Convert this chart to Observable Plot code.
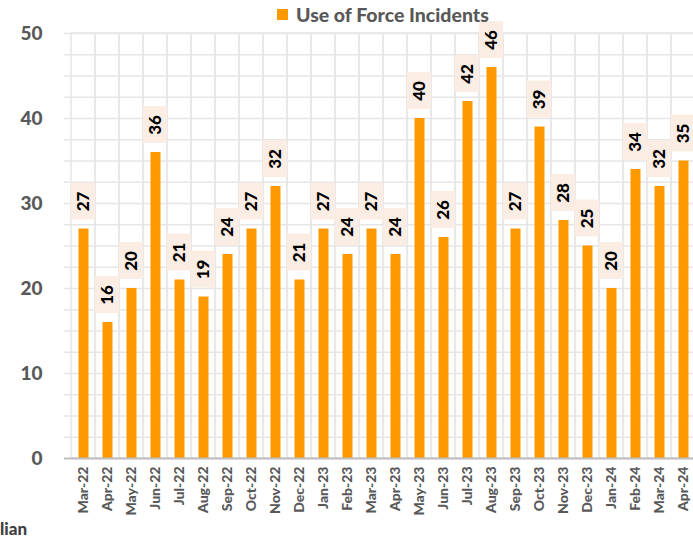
<!DOCTYPE html>
<html>
<head>
<meta charset="utf-8">
<script src="https://cdn.jsdelivr.net/npm/d3@7"></script>
<script src="https://cdn.jsdelivr.net/npm/@observablehq/plot@0.6"></script>
<style>
  html, body { margin: 0; padding: 0; background: #fff; width: 693px; height: 544px; overflow: hidden; }
  #wrap { position: relative; width: 693px; height: 544px; overflow: hidden; font-family: Lato, "Open Sans", sans-serif; }
  #chart { position: absolute; left: 0; top: 0; width: 710px; }
  #chart svg { max-width: none !important; }
  #legend { position: absolute; left: 277px; top: 3px; display: flex; align-items: center; font-weight: 900; font-size: 19.5px; color: #595959; }
  #legend .sw { width: 11px; height: 11px; background: #ff9900; margin-right: 8px; }
  #note { position: absolute; left: 0px; top: 518px; font-weight: 900; font-size: 17px; color: #404040; }
</style>
</head>
<body>
<div id="wrap">
  <div id="chart"></div>
  <div id="legend"><div class="sw"></div><span>Use of Force Incidents</span></div>
  <div id="note">lian</div>
</div>
<script>
const months = ["Mar-22","Apr-22","May-22","Jun-22","Jul-22","Aug-22","Sep-22","Oct-22","Nov-22","Dec-22",
  "Jan-23","Feb-23","Mar-23","Apr-23","May-23","Jun-23","Jul-23","Aug-23","Sep-23","Oct-23","Nov-23","Dec-23",
  "Jan-24","Feb-24","Mar-24","Apr-24"];
const incidents = [27,16,20,36,21,19,24,27,32,21,27,24,27,24,40,26,42,46,27,39,28,25,20,34,32,35];
const yTicks = [0,10,20,30,40,50];
const gridLines = [0,2.5,5,7.5,10,12.5,15,17.5,20,22.5,25,27.5,30,32.5,35,37.5,40,42.5,45,47.5,50];

const data = months.map((m, i) => ({month: m, value: incidents[i]}));

const chart = Plot.plot({
  width: 710,
  height: 544,
  marginLeft: 64,
  marginRight: 9,
  marginTop: 33,
  marginBottom: 86,
  style: {fontFamily: "Lato, 'Open Sans', sans-serif", background: "transparent", maxWidth: "none"},
  x: {type: "band", domain: months, padding: 0, label: null},
  y: {domain: [0, 50], label: null},
  marks: [
    Plot.ruleY(gridLines, {stroke: "#e6e6e6", strokeWidth: 1.5}),
    Plot.barY(months, {x: d => d, y1: 0, y2: 50, fill: "none", stroke: "#e6e6e6", strokeWidth: 1.5}),
    Plot.barY(data, {x: "month", y1: "value", y2: "value", insetTop: -46, insetBottom: 9, fill: "#fbede3"}),
    Plot.barY(data, {x: "month", y: "value", fill: "#ff9900", insetLeft: 7.5, insetRight: 6.5}),
    Plot.ruleY([0], {stroke: "#bfbfbf", strokeWidth: 2}),
    Plot.text(data, {x: "month", y: "value", text: d => String(d.value), dy: -27.5, rotate: -90,
      fontSize: 17, fontWeight: 900, fill: "#000", textAnchor: "middle", lineAnchor: "middle"}),
    Plot.axisY({ticks: yTicks, tickSize: 0, tickPadding: 22, fontSize: 19, fontWeight: 900, color: "#595959", label: null}),
    Plot.axisX({tickSize: 0, tickPadding: 8, tickRotate: -90, fontSize: 14, fontWeight: 900, color: "#595959", label: null})
  ]
});
document.getElementById("chart").appendChild(chart);
</script>
</body>
</html>
